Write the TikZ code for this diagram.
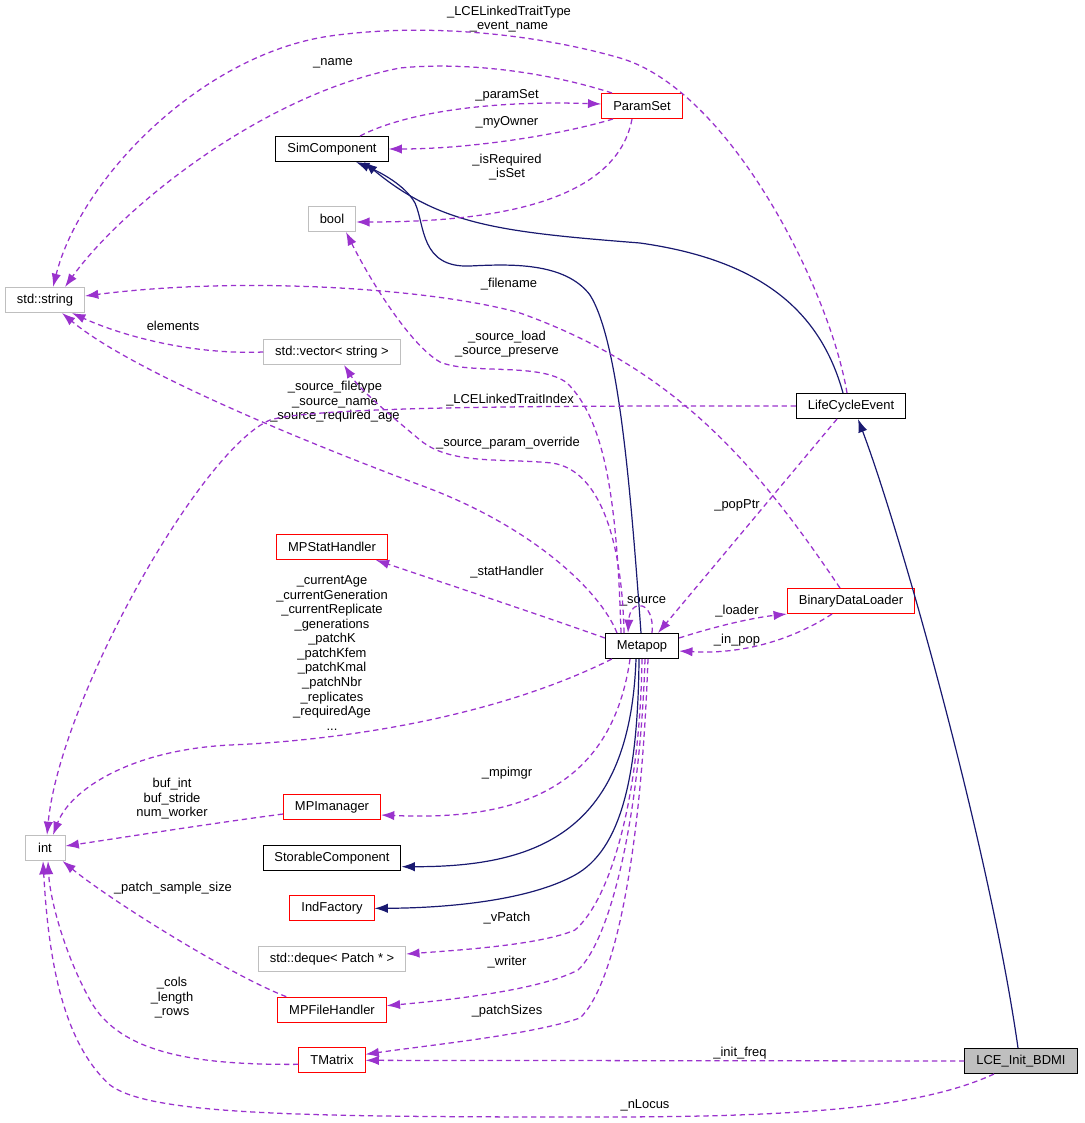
\documentclass[tikz,border=0pt]{standalone}
\usepackage{fontspec}
\setmainfont{Liberation Sans}
\definecolor{edgepurple}{HTML}{9A32CD}
\definecolor{edgenavy}{HTML}{191970}
\definecolor{boxgrey}{HTML}{BFBFBF}
\tikzstyle{cls}=[rectangle,draw=black,line width=0.75pt,fill=white,
minimum height=18.75pt,inner xsep=8.6pt,inner ysep=0pt]
\tikzstyle{rcls}=[cls,draw=red]
\tikzstyle{ext}=[cls,draw=boxgrey]
\tikzstyle{focus}=[cls,fill=boxgrey]
\tikzstyle{member}=[draw=edgepurple,line width=0.95pt,dash pattern=on 4pt off 2.8pt,
-{Latex[length=10pt,width=7pt]}]
\tikzstyle{inherit}=[draw=edgenavy,line width=0.9pt,-{Latex[length=10pt,width=7pt]}]
\tikzstyle{lbl}=[inner sep=0pt,align=center]
\usetikzlibrary{arrows.meta,positioning,calc}

\begin{document}
\begin{tikzpicture}[x=0.75pt,y=-0.75pt,node distance=38pt,font=\fontsize{9.7}{10.9}\selectfont]
            \useasboundingbox (0,0) rectangle (1084,1123);

            % CLASS PART

            \node[rcls] (pset) at (642,106) {ParamSet};
            \node[cls] (simc) at (332,149) {SimComponent};
            \node[ext] (bool) at (332,219) {bool};
            \node[ext] (str) at (45,300) {std::string};
            \node[ext] (vec) at (332,352) {std::vector< string >};
            \node[cls] (lce) at (851,406) {LifeCycleEvent};
            \node[rcls] (stat) at (332,547) {MPStatHandler};
            \node[rcls] (bdl) at (851,601) {BinaryDataLoader};
            \node[cls] (mpop) at (642,646) {Metapop};
            \node[ext,minimum width=30pt] (int) at (45,848) {int};
            \node[rcls] (mpi) at (332,807) {MPImanager};
            \node[cls,below of=mpi] (stor) {StorableComponent};
            \node[rcls,below of=stor] (indf) {IndFactory};
            \node[ext,below of=indf] (deq) {std::deque< Patch * >};
            \node[rcls,below of=deq] (fileh) {MPFileHandler};
            \node[rcls,below of=fileh] (tmat) {TMatrix};
            \node[focus] (init) at (1021,1061) {LCE\_Init\_BDMI};

            % LABEL PART

            \node[lbl] (ltype) at (509,19) {\_LCELinkedTraitType\\\_event\_name};
            \node[lbl] (lname) at (333,63) {\_name};
            \node[lbl] (lpset) at (507,95) {\_paramSet};
            \node[lbl] (lowner) at (507,122) {\_myOwner};
            \node[lbl] (lreq) at (507,167) {\_isRequired\\\_isSet};
            \node[lbl] (lfile) at (509,284) {\_filename};
            \node[lbl] (lelem) at (173,326) {elements};
            \node[lbl] (lload) at (507,344) {\_source\_load\\\_source\_preserve};
            \node[lbl] (lsrc) at (335,402) {\_source\_filetype\\\_source\_name\\\_source\_required\_age};
            \node[lbl] (lidx) at (510,400) {\_LCELinkedTraitIndex};
            \node[lbl] (lover) at (508,443) {\_source\_param\_override};
            \node[lbl] (lpop) at (737,505) {\_popPtr};
            \node[lbl] (lstat) at (507,572) {\_statHandler};
            \node[lbl] (lself) at (643,601) {\_source};
            \node[lbl] (lloader) at (737,611) {\_loader};
            \node[lbl] (linpop) at (737,640) {\_in\_pop};
            \node[lbl] (lage) at (332,653) {\_currentAge\\\_currentGeneration\\\_currentReplicate\\\_generations\\\_patchK\\\_patchKfem\\\_patchKmal\\\_patchNbr\\\_replicates\\\_requiredAge\\...};
            \node[lbl] (lmpi) at (507,773) {\_mpimgr};
            \node[lbl] (lbuf) at (172,799) {buf\_int\\buf\_stride\\num\_worker};
            \node[lbl] (lsample) at (173,888) {\_patch\_sample\_size};
            \node[lbl] (lvp) at (507,918) {\_vPatch};
            \node[lbl] (lwriter) at (507,962) {\_writer};
            \node[lbl] (lcols) at (172,998) {\_cols\\\_length\\\_rows};
            \node[lbl] (lsizes) at (507,1011) {\_patchSizes};
            \node[lbl] (lfreq) at (740,1053) {\_init\_freq};
            \node[lbl] (lnloc) at (645,1105) {\_nLocus};

            % INHERITANCE PART

            \draw[inherit] ($(mpop.north)+(-1,0)$) .. controls (630,480) and (618,340) .. (590,295)
                .. controls (565,262) and (510,264) .. (470,266)
                .. controls (420,268) and (425,225) .. (415,203)
                .. controls (405,185) and (380,172) .. ($(simc.south)+(24,0)$);
            \draw[inherit] ($(lce.north)+(-8,0)$) .. controls (820,310) and (760,260) .. (640,243)
                .. controls (500,232) and (440,225) .. ($(simc.south)+(32,0)$);
            \draw[inherit] ($(init.north)+(-3,0)$) .. controls (990,850) and (900,530) .. ($(lce.south)+(7,0)$);
            \draw[inherit] ($(mpop.south)+(-6,0)$) .. controls (630,830) and (540,867) .. ($(stor.east)+(0,9)$);
            \draw[inherit] ($(mpop.south)+(-3,0)$) .. controls (638,780) and (620,850) .. (575,875)
                .. controls (530,900) and (450,908) .. (indf.east);

            % MEMBER PART

            \draw[member] ($(lce.north)+(-4,0)$) .. controls (830,290) and (730,90) .. (620,58)
                .. controls (540,35) and (430,22) .. (330,36)
                .. controls (200,55) and (80,180) .. ($(str.north)+(8,0)$);
            \draw[member] ($(pset.north)+(-30,0)$) .. controls (540,70) and (460,62) .. (400,68)
                .. controls (260,95) and (120,210) .. ($(str.north)+(20,0)$);
            \draw[member] ($(simc.north)+(28,0)$) .. controls (400,115) and (480,100) .. ($(pset.west)+(0,-2)$);
            \draw[member] ($(pset.south)+(-29,0)$) .. controls (560,135) and (470,149) .. (simc.east);
            \draw[member] ($(pset.south)+(-10,0)$) .. controls (615,210) and (470,222) .. ($(bool.east)+(0,3)$);
            \draw[member] ($(bdl.north)+(-11,0)$) .. controls (760,470) and (680,370) .. (520,313)
                .. controls (440,290) and (250,275) .. ($(str.east)+(0,-4)$);
            \draw[member] (vec.west) .. controls (190,355) and (120,335) .. ($(str.south)+(27,0)$);
            \draw[member] ($(mpop.north)+(-25,0)$) .. controls (600,590) and (530,525) .. (420,485)
                .. controls (300,440) and (130,370) .. ($(str.south)+(17,0)$);
            \draw[member] ($(mpop.north)+(-21,0)$) .. controls (617,500) and (605,420) .. (567,383)
                .. controls (540,362) and (470,375) .. (440,362)
                .. controls (410,345) and (370,280) .. ($(bool.south)+(14,0)$);
            \draw[member] ($(mpop.north)+(-18,0)$) .. controls (622,540) and (600,470) .. (552,463)
                .. controls (500,458) and (450,465) .. (420,440)
                .. controls (390,415) and (360,390) .. ($(vec.south)+(12,0)$);
            \draw[member] ($(mpop.north)+(10,0)$) .. controls (655,600) and (630,598) .. ($(mpop.north)+(-14,0)$);
            \draw[member] ($(lce.south)+(-14,0)$) -- ($(mpop.north)+(16,0)$);
            \draw[member] (lce.west) .. controls (600,406) and (320,405) .. (270,420)
                .. controls (200,450) and (60,700) .. ($(int.north)+(2,0)$);
            \draw[member] ($(mpop.west)+(0,-8)$) .. controls (540,615) and (450,585) .. ($(stat.south east)+(-12,0)$);
            \draw[member] ($(mpop.east)+(0,-8)$) .. controls (710,628) and (750,618) .. (bdl.south west);
            \draw[member] ($(bdl.south)+(-19,0)$) .. controls (800,635) and (750,655) .. ($(mpop.east)+(0,5)$);
            \draw[member] ($(mpop.south west)+(7,0)$) .. controls (500,715) and (350,740) .. (230,745)
                .. controls (130,750) and (70,790) .. ($(int.north)+(8,0)$);
            \draw[member] ($(mpop.south)+(-12,0)$) .. controls (610,800) and (500,820) .. ($(mpi.east)+(0,8)$);
            \draw[member] ($(mpi.west)+(0,7)$) .. controls (200,825) and (120,838) .. ($(int.east)+(0,-2)$);
            \draw[member] (mpop.south) .. controls (640,800) and (610,900) .. (575,930)
                .. controls (540,945) and (460,950) .. ($(deq.east)+(0,-5)$);
            \draw[member] ($(mpop.south)+(3,0)$) .. controls (640,820) and (610,940) .. (578,970)
                .. controls (540,990) and (450,1000) .. ($(fileh.east)+(0,-4)$);
            \draw[member] ($(mpop.south)+(6,0)$) .. controls (640,880) and (610,990) .. (580,1018)
                .. controls (530,1035) and (430,1045) .. ($(tmat.east)+(0,-6)$);
            \draw[member] ($(fileh.north west)+(9,0)$) .. controls (230,975) and (110,900) .. ($(int.south east)+(-3,0)$);
            \draw[member] ($(tmat.west)+(0,4)$) .. controls (200,1065) and (120,1055) .. (90,1000)
                .. controls (65,955) and (50,900) .. ($(int.south)+(3,0)$);
            \draw[member] (init.west) -- (tmat.east);
            \draw[member] ($(init.south)+(-27,0)$) .. controls (920,1108) and (800,1117) .. (600,1117)
                .. controls (300,1117) and (150,1115) .. (110,1085)
                .. controls (60,1040) and (48,950) .. ($(int.south)+(-2,0)$);

\end{tikzpicture}
\end{document}
